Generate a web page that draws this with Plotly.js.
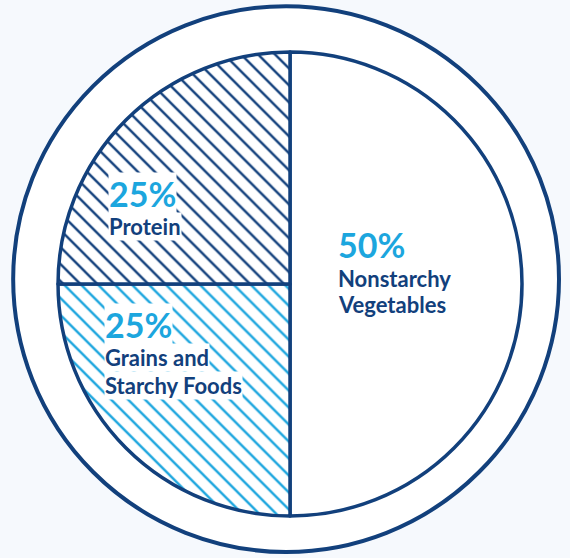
<!DOCTYPE html>
<html>
<head>
<meta charset="utf-8">
<script src="https://cdn.plot.ly/plotly-3.0.1.min.js"></script>
<style>html,body{margin:0;padding:0;background:#f6f9fd;}#chart{width:570px;height:558px;}</style>
</head>
<body>
<div id="chart"></div>
<script>
// Data
const categories = ["Nonstarchy Vegetables", "Grains and Starchy Foods", "Protein"];
const shares = [50, 25, 25];
const percentLabels = ["50%", "25%", "25%"];
const nameLines = [["Nonstarchy", "Vegetables"], ["Grains and", "Starchy Foods"], ["Protein"]];

const navy = "#12407c";
const cyan = "#1ca6de";
const W = 570, H = 558;

const plate = {
  type: "pie",
  values: [1],
  labels: ["plate"],
  sort: false,
  textinfo: "none",
  hoverinfo: "skip",
  showlegend: false,
  marker: { colors: ["#ffffff"], line: { color: navy, width: 4 } },
  domain: { x: [0.0228, 0.981], y: [0.0108, 0.989] }
};

const portions = {
  type: "pie",
  values: shares,
  labels: categories,
  textinfo: "none",
  sort: false,
  direction: "clockwise",
  rotation: 0,
  showlegend: false,
  hoverinfo: "label+percent",
  marker: {
    colors: ["#ffffff", "#ffffff", "#ffffff"],
    line: { color: navy, width: 3.5 },
    pattern: {
      shape: ["", "\\", "\\"],
      fgcolor: ["#ffffff", cyan, navy],
      bgcolor: ["#ffffff", "#ffffff", "#ffffff"],
      size: 12,
      solidity: 0.2
    }
  },
  domain: { x: [0.1018, 0.9158], y: [0.0753, 0.9068] }
};

// Label placement (layout: left edge and text baselines in pixels)
const labelX = [337, 104, 108];
const pctBase = [258, 338, 207];
const lineBase = [[287, 313], [366, 394], [235]];
const labelBg = ["rgba(255,255,255,0)", "#ffffff", "#ffffff"];
const pctSize = 34, nameSize = 22;
const midOff = 0.387; // Lato: box middle above baseline, in em

const annotations = [];
categories.forEach((c, i) => {
  annotations.push({
    xref: "paper", yref: "paper",
    x: labelX[i] / W, y: 1 - (pctBase[i] - midOff * pctSize) / H,
    xanchor: "left", yanchor: "middle", align: "left",
    text: percentLabels[i], showarrow: false,
    bgcolor: labelBg[i], borderpad: 0,
    font: { family: "Lato, sans-serif", size: pctSize, color: cyan, weight: 700 }
  });
  nameLines[i].forEach((ln, j) => {
    annotations.push({
      xref: "paper", yref: "paper",
      x: labelX[i] / W, y: 1 - (lineBase[i][j] - midOff * nameSize) / H,
      xanchor: "left", yanchor: "middle", align: "left",
      text: ln, showarrow: false,
      bgcolor: labelBg[i], borderpad: 0,
      font: { family: "Lato, sans-serif", size: nameSize, color: navy, weight: 700 }
    });
  });
});

const layout = {
  width: W,
  height: H,
  margin: { l: 0, r: 0, t: 0, b: 0 },
  paper_bgcolor: "#f6f9fd",
  plot_bgcolor: "#f6f9fd",
  showlegend: false,
  annotations: annotations
};

Plotly.newPlot("chart", [plate, portions], layout, { displayModeBar: false, staticPlot: true });
</script>
</body>
</html>
